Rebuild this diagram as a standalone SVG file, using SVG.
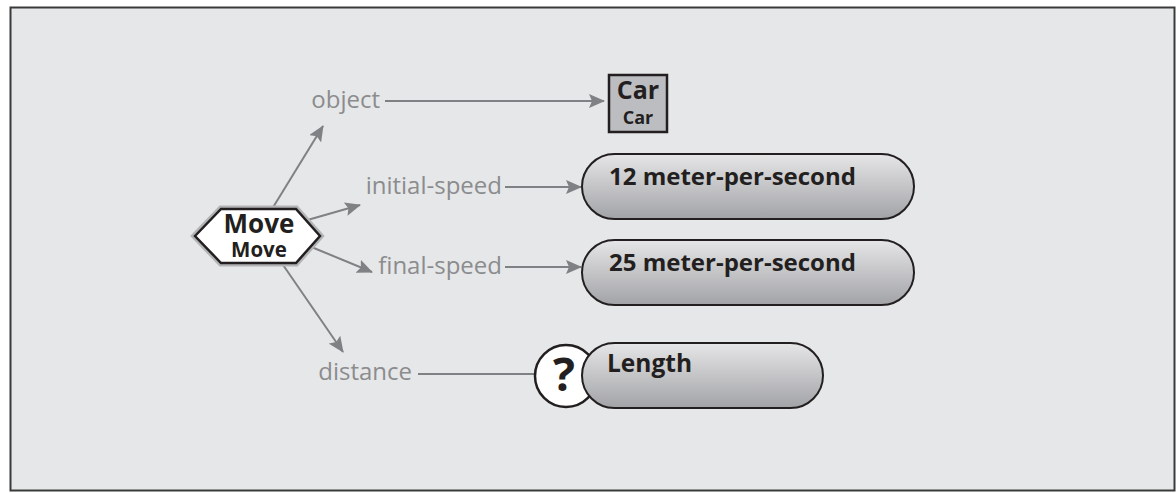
<svg xmlns="http://www.w3.org/2000/svg" width="1176" height="493" viewBox="0 0 1176 493">
  <defs>
    <linearGradient id="pillFill" x1="0" y1="0" x2="0" y2="1">
      <stop offset="0" stop-color="#e6e6e7"/>
      <stop offset="1" stop-color="#a2a3a7"/>
    </linearGradient>
    <marker id="arrow" viewBox="0 0 16 14" refX="15" refY="7" markerWidth="16" markerHeight="14" markerUnits="userSpaceOnUse" orient="auto">
      <path d="M0,0 L16,7 L0,14 L3,7 z" fill="#808184"/>
    </marker>
    <style>
      .label { font-family: "Open Sans", "Liberation Sans", sans-serif; font-size: 24px; fill: #8b8c8e; }
      .bold { font-family: "Open Sans", "Liberation Sans", sans-serif; font-weight: 700; fill: #231f20; }
      .edge { stroke: #808184; stroke-width: 2; fill: none; }
      .pill { fill: url(#pillFill); stroke: #231f20; stroke-width: 2; }
    </style>
  </defs>

  <!-- frame -->
  <rect x="10.5" y="7.5" width="1164" height="483" fill="#e6e7e8" stroke="#3a3a3a" stroke-width="2"/>

  <!-- connectors -->
  <g id="connectors">
    <line class="edge" x1="272" y1="209" x2="323" y2="126" marker-end="url(#arrow)"/>
    <line class="edge" x1="304" y1="221" x2="360" y2="205" marker-end="url(#arrow)"/>
    <line class="edge" x1="309" y1="246" x2="372" y2="272" marker-end="url(#arrow)"/>
    <line class="edge" x1="281" y1="262" x2="343" y2="352" marker-end="url(#arrow)"/>
    <line class="edge" x1="385" y1="101" x2="604" y2="101" marker-end="url(#arrow)"/>
    <line class="edge" x1="505" y1="187" x2="581" y2="187" marker-end="url(#arrow)"/>
    <line class="edge" x1="505" y1="267" x2="581" y2="267" marker-end="url(#arrow)"/>
    <line class="edge" x1="418" y1="374" x2="537" y2="374"/>
  </g>

  <!-- relation labels -->
  <g id="labels">
    <text class="label" x="380" y="108" text-anchor="end">object</text>
    <text class="label" x="502" y="194" text-anchor="end">initial-speed</text>
    <text class="label" x="502" y="274" text-anchor="end">final-speed</text>
    <text class="label" x="412" y="380" text-anchor="end">distance</text>
  </g>

  <!-- Move event -->
  <g id="move">
    <polygon points="195,236 221,209 296,209 320,236 296,263 221,263" fill="none" stroke="#b3b4b6" stroke-width="7" stroke-linejoin="miter"/>
    <polygon points="195,236 221,209 296,209 320,236 296,263 221,263" fill="#ffffff" stroke="#231f20" stroke-width="2.5"/>
    <text class="bold" x="259" y="233" font-size="26" text-anchor="middle">Move</text>
    <text class="bold" x="259" y="257" font-size="20.5" text-anchor="middle">Move</text>
  </g>

  <!-- Car -->
  <g id="car">
    <rect x="609" y="75" width="58" height="57" fill="#bcbdc0" stroke="#231f20" stroke-width="2.5"/>
    <text class="bold" x="638" y="99" font-size="25" text-anchor="middle">Car</text>
    <text class="bold" x="638" y="124" font-size="18" text-anchor="middle">Car</text>
  </g>

  <!-- initial speed value -->
  <g id="initial-speed-value">
    <rect class="pill" x="582" y="154" width="332" height="65" rx="32.5"/>
    <text class="bold" x="609" y="185" font-size="24">12 meter-per-second</text>
  </g>

  <!-- final speed value -->
  <g id="final-speed-value">
    <rect class="pill" x="582" y="240" width="332" height="65" rx="32.5"/>
    <text class="bold" x="609" y="271" font-size="24">25 meter-per-second</text>
  </g>

  <!-- unknown distance -->
  <g id="distance-value">
    <circle cx="566" cy="376" r="31" fill="#ffffff" stroke="#231f20" stroke-width="2.5"/>
    <text class="bold" x="564" y="391" font-size="46" text-anchor="middle">?</text>
    <rect class="pill" x="582" y="343" width="241" height="65" rx="32.5"/>
    <text class="bold" x="607" y="372" font-size="24.5">Length</text>
  </g>
</svg>
